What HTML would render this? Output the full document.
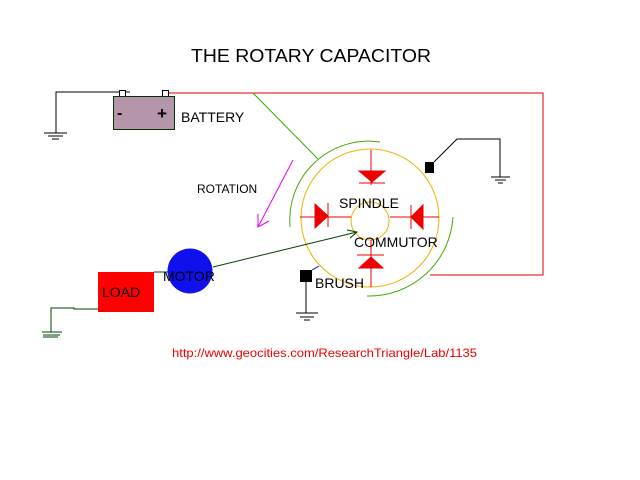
<!DOCTYPE html>
<html><head><style>html,body{margin:0;padding:0;background:#fff}svg{display:block}text{font-family:"Liberation Sans",sans-serif}</style></head>
<body>
<svg width="640" height="480" viewBox="0 0 640 480" xmlns="http://www.w3.org/2000/svg">
<rect width="640" height="480" fill="#fff"/>
<text x="191" y="62" font-size="18" textLength="240" lengthAdjust="spacingAndGlyphs">THE ROTARY CAPACITOR</text>
<!-- battery -->
<polyline points="130,92 56,92 56,133" fill="none" stroke="#000" stroke-width="1"/>
<line x1="44" y1="133" x2="67" y2="133" stroke="#000"/>
<line x1="48" y1="136" x2="63" y2="136" stroke="#000"/>
<line x1="52" y1="139" x2="59" y2="139" stroke="#000"/>
<rect x="119.5" y="90.5" width="6" height="6" fill="#fff" stroke="#000"/>
<rect x="162.5" y="90.5" width="6" height="6" fill="#fff" stroke="#000"/>
<rect x="113.5" y="96.5" width="61" height="33" fill="#b495a9" stroke="#003300"/>
<text x="117" y="118" font-size="16" font-weight="bold">-</text>
<text x="157" y="119" font-size="17" font-weight="bold">+</text>
<text x="181" y="122" font-size="14">BATTERY</text>
<!-- red wire -->
<polyline points="169,93 543,93 543,275 430,275" fill="none" stroke="#e00000" stroke-width="1"/>
<line x1="253" y1="93" x2="318" y2="159" stroke="#33aa00"/>
<!-- rotation -->
<line x1="293" y1="160" x2="258" y2="227" stroke="#ee00ee"/>
<polyline points="258,214 258,227 269,221" fill="none" stroke="#ee00ee"/>
<text x="197" y="193" font-size="12">ROTATION</text>
<!-- commutator -->
<circle cx="370" cy="218" r="69" fill="none" stroke="#f0b000"/>
<circle cx="370" cy="221" r="19" fill="none" stroke="#f0b000"/>
<path d="M380,142 A79,79 0 0 0 290,227" fill="none" stroke="#44aa00"/>
<path d="M453,217 A84,84 0 0 1 367,296" fill="none" stroke="#44aa00"/>
<g stroke="#ee0000" fill="#ee0000">
<line x1="371" y1="150" x2="371" y2="185"/>
<polygon points="359,171 385,171 372,182"/>
<line x1="359" y1="183" x2="385" y2="183"/>
<line x1="300" y1="217" x2="351" y2="217"/>
<polygon points="315,204 315,228 328,216"/>
<line x1="328" y1="203" x2="328" y2="227"/>
<line x1="390" y1="217" x2="439" y2="217"/>
<polygon points="423,205 423,229 411,217"/>
<line x1="411" y1="205" x2="411" y2="229"/>
<line x1="371" y1="240" x2="371" y2="287"/>
<polygon points="359,268 383,268 371,257"/>
<line x1="357" y1="255" x2="384" y2="255"/>
</g>
<text x="339" y="208" font-size="14">SPINDLE</text>
<text x="354" y="247" font-size="14">COMMUTOR</text>
<!-- brush top right -->
<rect x="425" y="162" width="9" height="11" fill="#000"/>
<polyline points="434,162 457,139 500,139 500,177" fill="none" stroke="#000"/>
<line x1="491" y1="177" x2="510" y2="177" stroke="#000"/>
<line x1="495" y1="180" x2="506" y2="180" stroke="#000"/>
<line x1="498" y1="183" x2="503" y2="183" stroke="#000"/>
<!-- brush bottom -->
<rect x="300" y="270" width="12" height="12" fill="#000"/>
<line x1="312" y1="270" x2="319" y2="266" stroke="#0000ee"/>
<line x1="306" y1="282" x2="306" y2="313" stroke="#000"/>
<line x1="296" y1="313" x2="318" y2="313" stroke="#000"/>
<line x1="300" y1="317" x2="314" y2="317" stroke="#000"/>
<line x1="304" y1="320" x2="310" y2="320" stroke="#000"/>
<text x="315" y="288" font-size="14">BRUSH</text>
<!-- motor wire -->
<line x1="213" y1="267" x2="357" y2="232" stroke="#004400"/>
<polyline points="347,230 357,232 350,238" fill="none" stroke="#004400"/>
<circle cx="190" cy="271" r="22.5" fill="#1010ee"/>
<text x="163" y="281" font-size="14">MOTOR</text>
<line x1="154" y1="272" x2="168" y2="272" stroke="#004400"/>
<rect x="98" y="272" width="56" height="40" fill="#ff0000"/>
<text x="102" y="297" font-size="14">LOAD</text>
<polyline points="98,309 74,309 74,308 51,308 51,332" fill="none" stroke="#004400"/>
<line x1="42" y1="332" x2="62" y2="332" stroke="#004400"/>
<line x1="43" y1="335" x2="60" y2="335" stroke="#004400"/>
<line x1="43" y1="337" x2="58" y2="337" stroke="#004400"/>
<text x="172" y="357" font-size="12" fill="#ee0000" textLength="305" lengthAdjust="spacingAndGlyphs">http://www.geocities.com/ResearchTriangle/Lab/1135</text>
</svg>
</body></html>
